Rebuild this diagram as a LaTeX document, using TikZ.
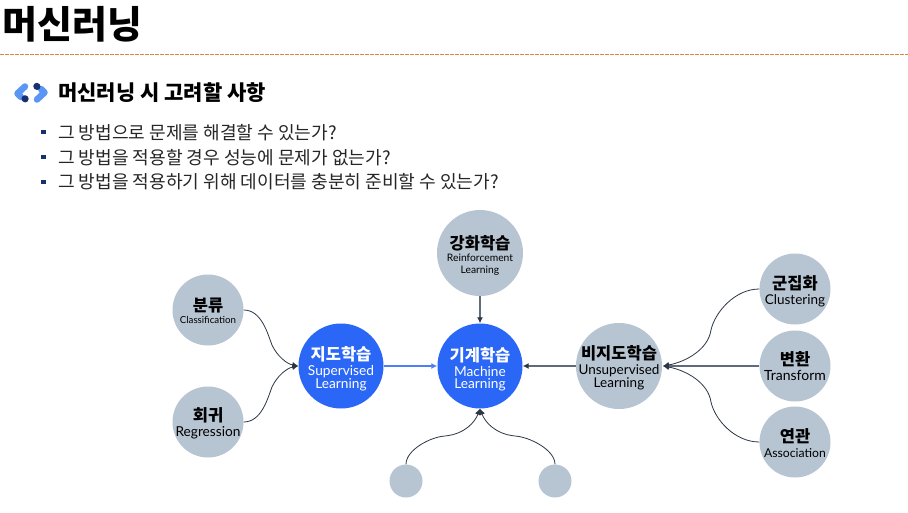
\documentclass[tikz,border=0pt]{standalone}
\usepackage{fontspec}
\setmainfont{Noto Sans CJK KR}
\newfontfamily\latf{Lato}
\usetikzlibrary{arrows.meta}
\definecolor{grayc}{HTML}{B7C4D1}
\definecolor{bluec}{HTML}{2B67F6}
\definecolor{darkl}{HTML}{2B3645}
\definecolor{grayl}{HTML}{5F6B7A}
\definecolor{bluel}{HTML}{4D80F5}
\definecolor{orangel}{HTML}{D98A3D}
\definecolor{iconl}{HTML}{5B96F7}
\definecolor{icond}{HTML}{17306F}
\tikzset{
  bigc/.style={circle,fill=grayc,minimum size=86pt,inner sep=0pt},
  midc/.style={circle,fill=grayc,minimum size=71pt,inner sep=0pt},
  smallc/.style={circle,fill=grayc,minimum size=33pt,inner sep=0pt},
  mainc/.style={circle,fill=bluec,minimum size=85pt,inner sep=0pt},
  captd/.style={inner sep=0pt,align=center,text=black},
  captw/.style={inner sep=0pt,align=center,text=white},
  curve/.style={draw=darkl,line width=0.8pt,-{Latex[length=6pt,width=6pt]}},
  straight/.style={draw=grayl,line width=1.2pt,-{Latex[length=6pt,width=6pt,color=darkl]}},
  bluea/.style={draw=bluel,line width=1.2pt,-{Latex[length=6pt,width=6pt]}},
  bull/.style={fill=icond,minimum size=4.5pt,inner sep=0pt},
  txtl/.style={anchor=west,inner sep=0pt,font=\fontsize{18.1}{20}\selectfont,text=black!85},
  icoa/.style={iconl,line width=6.5pt,line cap=round,line join=round},
  icob/.style={icond,line width=7pt,line cap=round}
}
\newcommand{\cpk}[2]{\fontsize{16.5}{18}\selectfont\bfseries #1\\[#2pt]}
\newcommand{\cpl}[1]{\latf\mdseries\fontsize{#1}{#1}\selectfont}
\begin{document}
\begin{tikzpicture}[x=1pt,y=-1pt]
\useasboundingbox (0,0) rectangle (908,512);
\fill[white] (0,0) rectangle (908,512);
\node[inner sep=0pt,anchor=west] (title) at (2,24) {\fontsize{38}{42}\selectfont\bfseries 머신러닝};
\coordinate (dl) at (0,54.5); \coordinate (dr) at (908,54.5);
\draw[orangel,line width=1.4pt,dash pattern=on 3.5pt off 1.5pt] (dl) -- (dr);
% icon
\draw[icoa] (25,86.5) -- (17.5,93.5) -- (21,97);
\draw[icob] (25,98.7) -- (25.2,98.9);
\draw[icoa] (37,99.5) -- (44.5,92.5) -- (41,89);
\draw[icob] (37,86.5) -- (36.8,86.3);
\node[inner sep=0pt,anchor=west] (sub) at (58,93) {\fontsize{21}{24}\selectfont\bfseries 머신러닝 시 고려할 사항};
\node[bull] (b1) at (43.5,132) {};
\node[bull] (b2) at (43.5,157) {};
\node[bull] (b3) at (43.5,182) {};
\node[txtl] (l1) at (58,133) {그 방법으로 문제를 해결할 수 있는가?};
\node[txtl] (l2) at (58,158) {그 방법을 적용할 경우 성능에 문제가 없는가?};
\node[txtl] (l3) at (58,182) {그 방법을 적용하기 위해 데이터를 충분히 준비할 수 있는가?};
% nodes
\node[mainc] (ml) at (480,366) {};
\node[mainc] (sl) at (341,366) {};
\node[bigc] (rl) at (480,253) {};
\node[bigc] (ul) at (619,366) {};
\node[midc] (cls) at (208,310) {};
\node[midc] (reg) at (208,422) {};
\node[midc] (clu) at (795,289) {};
\node[midc] (tr) at (795,366) {};
\node[midc] (as) at (795,442) {};
\node[smallc] (s1) at (406,481) {};
\node[smallc] (s2) at (555,481) {};
% captions
\node[captw] (mlt) at (480,369) {\cpk{기계학습}{3}\cpl{13.7}Machine\\\cpl{13.7}Learning};
\node[captw] (slt) at (341,369) {\cpk{지도학습}{3}\cpl{13.7}Supervised\\\cpl{13.7}Learning};
\node[captd] (rlt) at (480,255.5) {\cpk{강화학습}{0}\cpl{10.3}Reinforcement\\\cpl{10.3}Learning};
\node[captd] (ult) at (619,367.5) {\cpk{비지도학습}{3}\cpl{13.5}Unsupervised\\\cpl{13.5}Learning};
\node[captd] (clst) at (208,311) {\cpk{분류}{0}\cpl{9.7}Classification};
\node[captd] (regt) at (208,423) {\cpk{회귀}{3}\cpl{13.7}Regression};
\node[captd] (clut) at (795,291) {\cpk{군집화}{3}\cpl{13.5}Clustering};
\node[captd] (trt) at (795,366.5) {\cpk{변환}{3}\cpl{14}Transform};
\node[captd] (ast) at (795,443) {\cpk{연관}{3}\cpl{12.2}Association};
% connectors
\draw[curve] (cls.east) .. controls (262,310) and (268,335) .. (272,345) .. controls (277,356) and (287,364) .. (sl.west);
\draw[curve] (reg.east) .. controls (262,422) and (268,397) .. (272,387) .. controls (277,376) and (287,368) .. (sl.west);
\draw[bluea] (sl) -- (ml);
\draw[straight] (rl) -- (ml);
\draw[straight] (ul) -- (ml);
\coordinate (uli) at (663,366);
\draw[curve] (clu.west) .. controls (735,289) and (715,312) .. (711,330) .. controls (708,350) and (685,362) .. (uli);
\draw[curve] (as.west) .. controls (735,442) and (715,420) .. (711,402) .. controls (708,382) and (685,370) .. (uli);
\draw[straight] (tr.west) -- (uli);
\draw[curve] (s1.north) .. controls (406,450) and (430,437) .. (445,436) .. controls (465,434) and (475,422) .. (ml.south);
\draw[curve] (s2.north) .. controls (555,450) and (530,437) .. (515,436) .. controls (495,434) and (485,422) .. (ml.south);
\end{tikzpicture}
\end{document}
